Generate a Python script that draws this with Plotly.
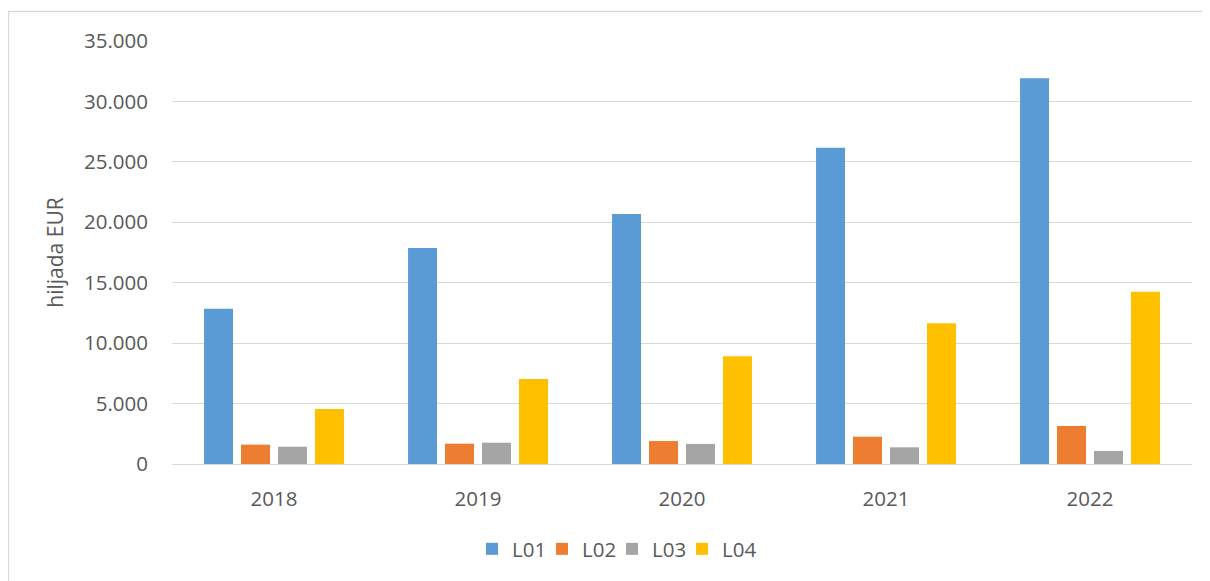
import plotly.graph_objects as go

years = ["2018", "2019", "2020", "2021", "2022"]
series_names = ["L01", "L02", "L03", "L04"]
L01 = [12850, 17870, 20690, 26170, 31910]
L02 = [1600, 1680, 1900, 2260, 3140]
L03 = [1430, 1760, 1660, 1380, 1080]
L04 = [4550, 7030, 8910, 11640, 14260]
colors = ["#5B9BD5", "#ED7D31", "#A5A5A5", "#FFC000"]
tick_vals = [0, 5000, 10000, 15000, 20000, 25000, 30000, 35000]
tick_text = ["0", "5.000", "10.000", "15.000", "20.000", "25.000", "30.000", "35.000"]

W, H = 1210, 581
OFF = 8  # page body margin offset
L, R, T, B = 172 - OFF, 1192 - OFF, 41 - OFF, 464 - OFF

fig = go.Figure()
for name, vals, c in zip(series_names, [L01, L02, L03, L04], colors):
    fig.add_trace(go.Bar(x=years, y=vals, name=name, marker=dict(color=c, line=dict(width=0))))
# invisible spacer entry so the last legend label is not clipped
fig.add_trace(go.Scatter(x=[None], y=[None], mode="markers", name=" ",
                         marker=dict(color="rgba(0,0,0,0)", size=1, line=dict(width=0)),
                         hoverinfo="skip"))

font = dict(family="Open Sans", size=20.5, color="#595959")

pw = R - L
ph = B - T

def px_x(x):
    return (x - OFF - L) / pw

def px_y(y):
    return (B - (y - OFF)) / ph

fig.update_layout(
    width=W, height=H,
    margin=dict(l=L, r=W - R, t=T, b=H - B, pad=0),
    paper_bgcolor="white", plot_bgcolor="white",
    barmode="group", bargap=0.275, bargroupgap=0.216,
    font=font,
    showlegend=True,
    legend=dict(orientation="h", x=px_x(472), xanchor="left", y=px_y(549), yanchor="middle",
                font=font, entrywidth=25, entrywidthmode="pixels", itemwidth=30,
                bgcolor="rgba(0,0,0,0)"),
    xaxis=dict(showgrid=False, showline=False, ticks="", tickfont=font, ticklabelstandoff=20,
               fixedrange=True),
    yaxis=dict(range=[0, 35000], tickvals=tick_vals, ticktext=tick_text, showgrid=True,
               gridcolor="#D9D9D9", gridwidth=1.3, zeroline=True, zerolinecolor="#D9D9D9",
               zerolinewidth=1.3, showline=False, ticks="", tickfont=font, ticklabelstandoff=23,
               title=dict(text="hiljada EUR", font=dict(family="Open Sans", size=21, color="#595959"),
                          standoff=14)),
    shapes=[dict(type="rect", xref="paper", yref="paper",
                 x0=px_x(8.5), x1=px_x(1240), y0=px_y(610), y1=px_y(11.5),
                 line=dict(color="#D9D9D9", width=1.3), fillcolor="rgba(0,0,0,0)", layer="below")],
)

fig.write_html("out.html")
